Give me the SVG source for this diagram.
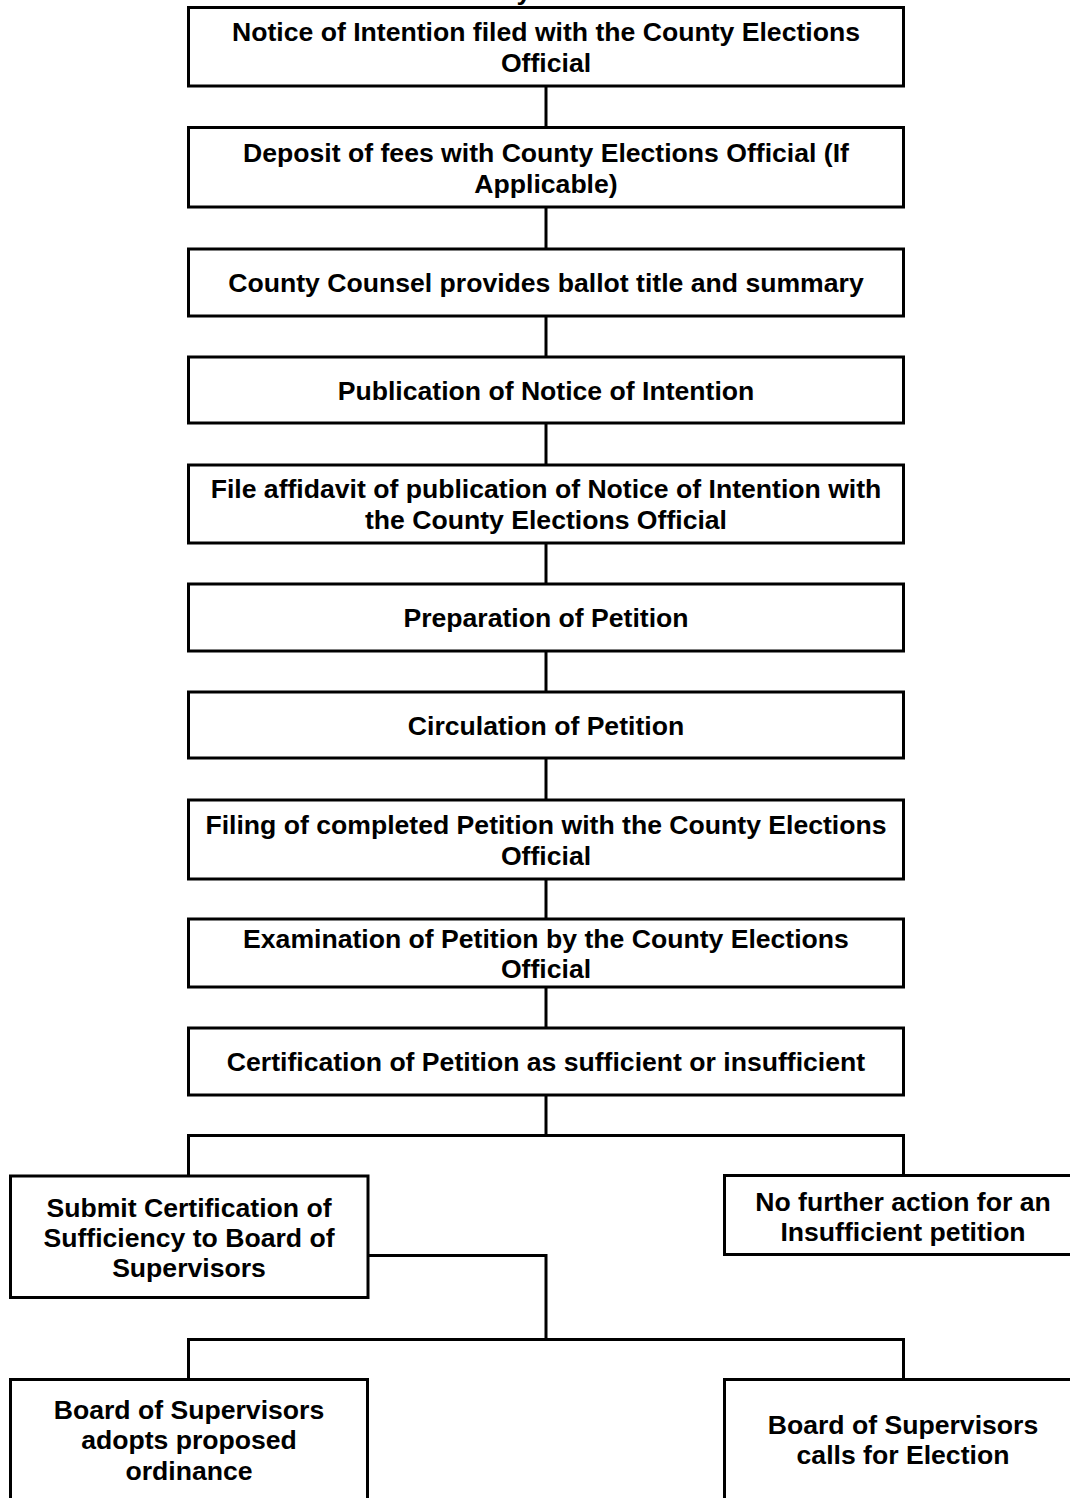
<svg xmlns="http://www.w3.org/2000/svg" width="1070" height="1498" viewBox="0 0 1070 1498">
  <style>
    .box { fill: #ffffff; stroke: #000000; stroke-width: 3; }
    .lbl { font-family: "Liberation Sans", Arial, sans-serif; font-weight: bold; font-size: 26.6px; fill: #000000; text-anchor: middle; }
    .wire { fill: none; stroke: #000000; stroke-width: 3; stroke-linecap: square; stroke-linejoin: miter; }
  </style>
  <rect width="1070" height="1498" fill="#ffffff"/>

  <!-- tail of the heading line, mostly above the page edge -->
  <text class="lbl" x="524" y="0">y</text>

  <g id="connectors">
    <line class="wire" x1="546" y1="86" x2="546" y2="127.5"/>
    <line class="wire" x1="546" y1="207" x2="546" y2="249"/>
    <line class="wire" x1="546" y1="316" x2="546" y2="357"/>
    <line class="wire" x1="546" y1="423" x2="546" y2="465"/>
    <line class="wire" x1="546" y1="543" x2="546" y2="584"/>
    <line class="wire" x1="546" y1="651" x2="546" y2="692"/>
    <line class="wire" x1="546" y1="758" x2="546" y2="800"/>
    <line class="wire" x1="546" y1="879" x2="546" y2="919"/>
    <line class="wire" x1="546" y1="987" x2="546" y2="1028"/>
    <line class="wire" x1="546" y1="1095" x2="546" y2="1135.5"/>
    <polyline class="wire" points="188.5,1176 188.5,1135.5 903.5,1135.5 903.5,1175.5"/>
    <polyline class="wire" points="368,1255.5 546,1255.5 546,1339.5"/>
    <polyline class="wire" points="188.5,1379.5 188.5,1339.5 903.5,1339.5 903.5,1379.5"/>
  </g>

  <g id="n1">
    <rect class="box" x="188.5" y="7.5" width="715" height="78.5"/>
    <text class="lbl" x="546" y="41">Notice of Intention filed with the County Elections</text>
    <text class="lbl" x="546" y="72">Official</text>
  </g>
  <g id="n2">
    <rect class="box" x="188.5" y="127.5" width="715" height="79.5"/>
    <text class="lbl" x="546" y="161.5">Deposit of fees with County Elections Official (If</text>
    <text class="lbl" x="546" y="192.5">Applicable)</text>
  </g>
  <g id="n3">
    <rect class="box" x="188.5" y="249" width="715" height="67"/>
    <text class="lbl" x="546" y="292">County Counsel provides ballot title and summary</text>
  </g>
  <g id="n4">
    <rect class="box" x="188.5" y="357" width="715" height="66"/>
    <text class="lbl" x="546" y="399.5">Publication of Notice of Intention</text>
  </g>
  <g id="n5">
    <rect class="box" x="188.5" y="465" width="715" height="78"/>
    <text class="lbl" x="546" y="498">File affidavit of publication of Notice of Intention with</text>
    <text class="lbl" x="546" y="529">the County Elections Official</text>
  </g>
  <g id="n6">
    <rect class="box" x="188.5" y="584" width="715" height="67"/>
    <text class="lbl" x="546" y="627">Preparation of Petition</text>
  </g>
  <g id="n7">
    <rect class="box" x="188.5" y="692" width="715" height="66"/>
    <text class="lbl" x="546" y="734.5">Circulation of Petition</text>
  </g>
  <g id="n8">
    <rect class="box" x="188.5" y="800" width="715" height="79"/>
    <text class="lbl" x="546" y="833.5">Filing of completed Petition with the County Elections</text>
    <text class="lbl" x="546" y="864.5">Official</text>
  </g>
  <g id="n9">
    <rect class="box" x="188.5" y="919" width="715" height="68"/>
    <text class="lbl" x="546" y="947.5">Examination of Petition by the County Elections</text>
    <text class="lbl" x="546" y="978">Official</text>
  </g>
  <g id="n10">
    <rect class="box" x="188.5" y="1028" width="715" height="67"/>
    <text class="lbl" x="546" y="1071">Certification of Petition as sufficient or insufficient</text>
  </g>
  <g id="n11">
    <rect class="box" x="10.5" y="1176" width="357.5" height="121.5"/>
    <text class="lbl" x="189" y="1216.5">Submit Certification of</text>
    <text class="lbl" x="189" y="1246.5">Sufficiency to Board of</text>
    <text class="lbl" x="189" y="1276.5">Supervisors</text>
  </g>
  <g id="n12">
    <rect class="box" x="724.5" y="1175.5" width="357" height="79"/>
    <text class="lbl" x="903" y="1210.5">No further action for an</text>
    <text class="lbl" x="903" y="1240.5">Insufficient petition</text>
  </g>
  <g id="n13">
    <rect class="box" x="10.5" y="1379.5" width="357" height="121"/>
    <text class="lbl" x="189" y="1418.5">Board of Supervisors</text>
    <text class="lbl" x="189" y="1449">adopts proposed</text>
    <text class="lbl" x="189" y="1479.5">ordinance</text>
  </g>
  <g id="n14">
    <rect class="box" x="724.5" y="1379.5" width="357" height="121"/>
    <text class="lbl" x="903" y="1433.5">Board of Supervisors</text>
    <text class="lbl" x="903" y="1464">calls for Election</text>
  </g>
</svg>
